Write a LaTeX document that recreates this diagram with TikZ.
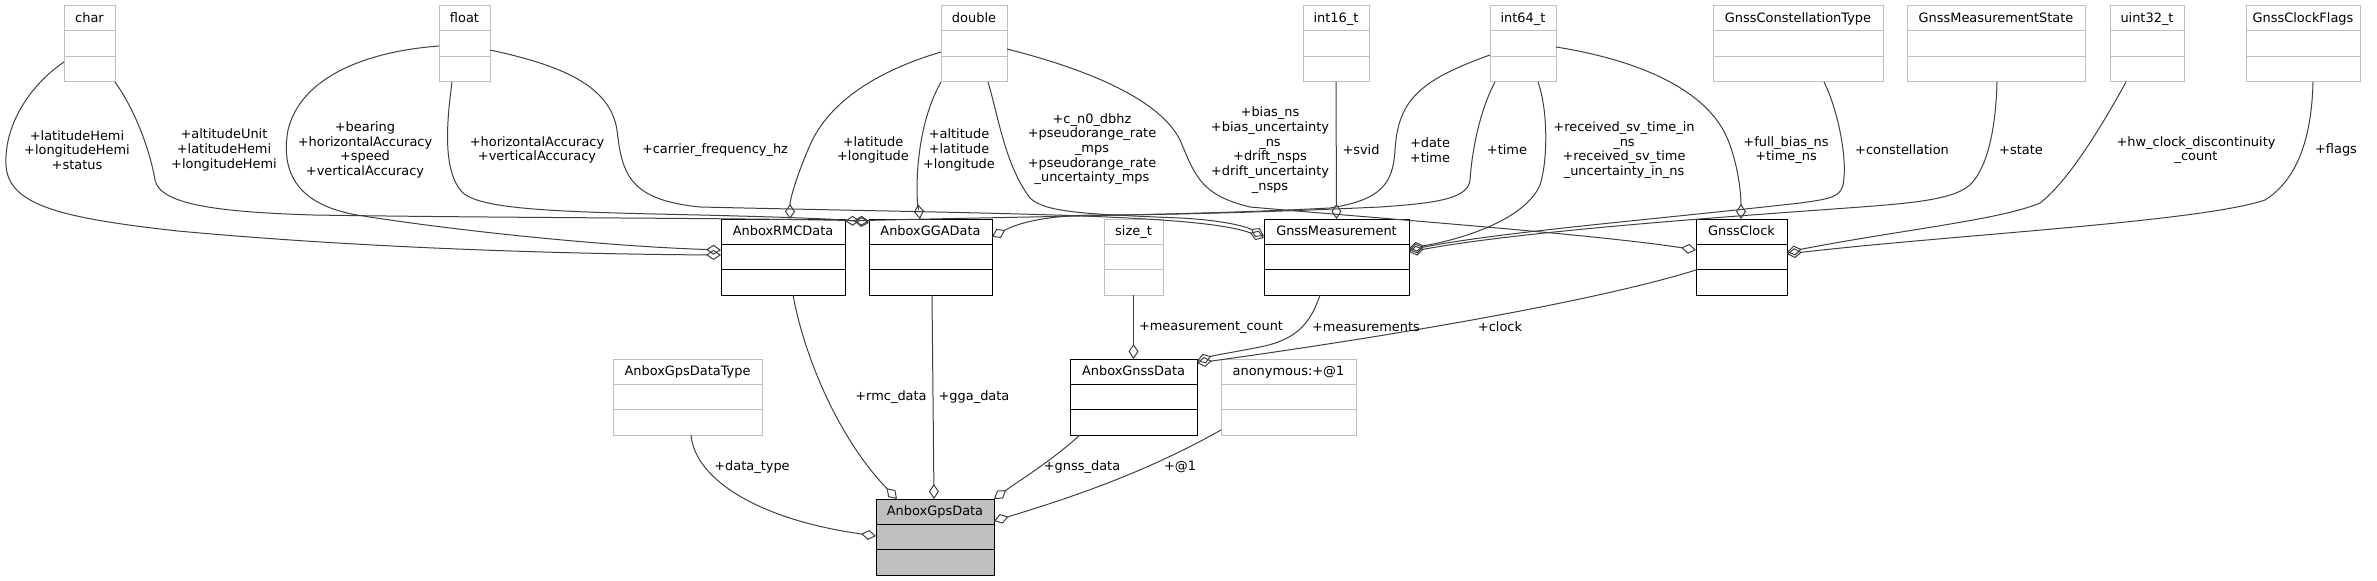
\documentclass[tikz,border=0pt]{standalone}
\usepackage{fontspec}
\setmainfont{DejaVu Sans}
\usetikzlibrary{arrows.meta,calc}
\definecolor{boxgray}{RGB}{191,191,191}
\definecolor{edgegray}{RGB}{64,64,64}
\newcommand\dgfont{\fontsize{9.7}{11}\selectfont}
\newcommand\umlbox[7]{%
  \node[cbox,#6,minimum width={#4*0.75pt},anchor=north west] (#1) at (#2,#3) {};
  \draw[draw=#7,line width=0.75pt] ($(#1.north west)+(0,25)$) -- ($(#1.north east)+(0,25)$)
    ($(#1.north west)+(0,50.5)$) -- ($(#1.north east)+(0,50.5)$);
  \node[anchor=base,font=\dgfont,inner sep=0pt] (#1-t) at ($(#1.north)+(0,16.5)$) {#5};
}
\begin{document}
\begin{tikzpicture}[x=0.75pt,y=-0.75pt,
  cbox/.style={rectangle,inner sep=0pt,outer sep=0pt,line width=0.75pt,minimum height=57pt},
  ext/.style={draw=boxgray,fill=white},
  doc/.style={draw=black,fill=white},
  mainc/.style={draw=black,fill=boxgray},
  conn/.style={draw=edgegray,line width=0.75pt,-{Diamond[open,length=11.25pt,width=7.5pt]}},
  elabel/.style={font=\dgfont,align=center,inner sep=0pt,text=black}]
\useasboundingbox (0,0) rectangle (2377,581);
\fill[white] (0,0) rectangle (2377,581);
% ---------- classes ----------
\umlbox{char}{64}{6}{51}{char}{ext}{boxgray}
\umlbox{float}{439}{6}{51}{float}{ext}{boxgray}
\umlbox{double}{941}{6}{66}{double}{ext}{boxgray}
\umlbox{int16}{1303}{6}{66}{int16\_t}{ext}{boxgray}
\umlbox{int64}{1490}{6}{66}{int64\_t}{ext}{boxgray}
\umlbox{gct}{1713}{6}{170}{GnssConstellationType}{ext}{boxgray}
\umlbox{gms}{1907}{6}{178}{GnssMeasurementState}{ext}{boxgray}
\umlbox{uint32}{2110}{6}{74}{uint32\_t}{ext}{boxgray}
\umlbox{gcf}{2246}{6}{114}{GnssClockFlags}{ext}{boxgray}
\umlbox{rmc}{721}{219}{124}{AnboxRMCData}{doc}{black}
\umlbox{gga}{869}{219}{123}{AnboxGGAData}{doc}{black}
\umlbox{sizet}{1104}{219}{59}{size\_t}{ext}{boxgray}
\umlbox{gm}{1264}{219}{145}{GnssMeasurement}{doc}{black}
\umlbox{gc}{1696}{219}{91}{GnssClock}{doc}{black}
\umlbox{dtype}{613}{359}{149}{AnboxGpsDataType}{ext}{boxgray}
\umlbox{gnss}{1070}{359}{127}{AnboxGnssData}{doc}{black}
\umlbox{anon}{1221}{359}{135}{anonymous:+@1}{ext}{boxgray}
\umlbox{gps}{876}{499}{118}{AnboxGpsData}{mainc}{black}
% ---------- connectors ----------
% char -> RMC
\draw[conn] ($(char.north west)+(0,56)$) .. controls (30,85) and (4,125) .. (6,165)
  .. controls (8,205) and (60,218) .. (178,231) .. controls (350,247) and (550,254) .. ($(rmc.north west)+(0,36)$);
% char -> GGA
\draw[conn] (char.south east) .. controls (135,110) and (150,150) .. (155,180)
  .. controls (160,205) and (220,212) .. (313,215) .. controls (500,218) and (750,218) .. ($(gga.north west)+(0,2)$);
% float -> RMC
\draw[conn] ($(float.north west)+(0,40)$) .. controls (360,52) and (300,80) .. (288,130)
  .. controls (280,175) and (300,205) .. (357,215) .. controls (450,230) and (600,246) .. ($(rmc.north west)+(0,31)$);
% float -> GGA
\draw[conn] ($(float.south west)+(13,0)$) .. controls (447,120) and (442,170) .. (462,192)
  .. controls (480,210) and (560,212) .. (700,215) .. controls (780,217) and (840,219) .. ($(gga.north west)+(0,4)$);
% float -> GnssMeasurement
\draw[conn] ($(float.north east)+(0,44)$) .. controls (560,65) and (610,85) .. (617,130)
  .. controls (622,175) and (630,200) .. (700,207) .. controls (1000,214) and (1200,214) .. ($(gm.north west)+(0,19)$);
% double -> RMC
\draw[conn] ($(double.north west)+(0,46)$) .. controls (880,70) and (830,100) .. (810,145)
  .. controls (795,180) and (790,200) .. ($(rmc.north west)+(69,0)$);
% double -> GGA
\draw[conn] (double.south west) .. controls (925,110) and (917,150) .. (917,190)
  .. controls (917,205) and (919,212) .. ($(gga.north west)+(51,0)$);
% double -> GnssMeasurement
\draw[conn] ($(double.south west)+(47,0)$) .. controls (998,115) and (1005,165) .. (1030,198)
  .. controls (1045,212) and (1080,214) .. (1180,218) .. controls (1220,220) and (1245,226) .. ($(gm.north west)+(0,17)$);
% double -> GnssClock
\draw[conn] ($(double.north east)+(0,43)$) .. controls (1090,70) and (1160,100) .. (1180,140)
  .. controls (1195,175) and (1200,195) .. (1250,207) .. controls (1400,220) and (1600,235) .. ($(gc.north west)+(0,31)$);
% int16 -> GnssMeasurement
\draw[conn] (int16.south) -- (gm.north);
% int64 -> RMC
\draw[conn] ($(int64.north west)+(0,49)$) .. controls (1420,80) and (1398,100) .. (1395,150)
  .. controls (1393,185) and (1380,200) .. (1330,208) .. controls (1200,215) and (1000,217) .. ($(rmc.north east)+(0,2)$);
% int64 -> GGA
\draw[conn] ($(int64.south west)+(5,0)$) .. controls (1480,110) and (1472,150) .. (1470,180)
  .. controls (1468,198) and (1440,203) .. (1380,207) .. controls (1250,213) and (1150,215) .. (1100,215)
  .. controls (1050,215) and (1020,222) .. ($(gga.north east)+(0,18)$);
% int64 -> GnssMeasurement
\draw[conn] ($(int64.south west)+(48,0)$) .. controls (1548,110) and (1548,160) .. (1540,185)
  .. controls (1525,220) and (1460,240) .. ($(gm.north east)+(0,29)$);
% int64 -> GnssClock
\draw[conn] ($(int64.north east)+(0,41)$) .. controls (1650,62) and (1710,95) .. (1728,140)
  .. controls (1740,170) and (1741,200) .. ($(gc.north west)+(45,0)$);
% GnssConstellationType -> GnssMeasurement
\draw[conn] ($(gct.south west)+(111,0)$) .. controls (1838,110) and (1848,160) .. (1843,185)
  .. controls (1840,197) and (1830,199) .. (1800,203) .. controls (1650,220) and (1500,232) .. ($(gm.north east)+(0,31)$);
% GnssMeasurementState -> GnssMeasurement
\draw[conn] ($(gms.south west)+(90,0)$) .. controls (1996,120) and (1990,165) .. (1970,185)
  .. controls (1950,202) and (1900,204) .. (1820,210) .. controls (1650,222) and (1500,235) .. ($(gm.north east)+(0,33)$);
% uint32 -> GnssClock
\draw[conn] ($(uint32.south west)+(16,0)$) .. controls (2105,120) and (2070,180) .. (2040,203)
  .. controls (2000,220) and (1900,230) .. ($(gc.north east)+(0,33)$);
% GnssClockFlags -> GnssClock
\draw[conn] ($(gcf.south west)+(67,0)$) .. controls (2312,120) and (2305,175) .. (2265,200)
  .. controls (2200,222) and (1950,235) .. ($(gc.north east)+(0,35)$);
% size_t -> AnboxGnssData
\draw[conn] (sizet.south) -- (gnss.north);
% GnssMeasurement -> AnboxGnssData
\draw[conn] ($(gm.south west)+(56,0)$) .. controls (1310,325) and (1295,340) .. (1260,347)
  .. controls (1235,352) and (1215,355) .. ($(gnss.north east)+(0,2)$);
% GnssClock -> AnboxGnssData
\draw[conn] ($(gc.south west)+(0,-25)$) .. controls (1600,300) and (1400,335) .. ($(gnss.north east)+(0,4)$);
% AnboxGpsDataType -> AnboxGpsData
\draw[conn] ($(dtype.south west)+(78,0)$) .. controls (695,480) and (760,520) .. ($(gps.north west)+(0,37)$);
% AnboxRMCData -> AnboxGpsData
\draw[conn] ($(rmc.south west)+(72,0)$) .. controls (805,360) and (840,440) .. ($(gps.north west)+(21,0)$);
% AnboxGGAData -> AnboxGpsData
\draw[conn] ($(gga.south west)+(63,0)$) -- ($(gps.north west)+(58,0)$);
% AnboxGnssData -> AnboxGpsData
\draw[conn] ($(gnss.south west)+(10,0)$) .. controls (1050,462) and (1020,480) .. (gps.north east);
% anonymous -> AnboxGpsData
\draw[conn] ($(anon.south west)+(0,-5)$) .. controls (1150,470) and (1080,495) .. ($(gps.north east)+(0,22)$);
% ---------- connector labels ----------
\node[elabel] (lA) at (77,150) {+latitudeHemi\\+longitudeHemi\\+status};
\node[elabel] (lB) at (224,150) {+altitudeUnit\\+latitudeHemi\\+longitudeHemi};
\node[elabel] (lC) at (365,150) {+bearing\\+horizontalAccuracy\\+speed\\+verticalAccuracy};
\node[elabel] (lD) at (537,150) {+horizontalAccuracy\\+verticalAccuracy};
\node[elabel] (lE) at (715,150) {+carrier\_frequency\_hz};
\node[elabel] (lF) at (873,150) {+latitude\\+longitude};
\node[elabel] (lG) at (959,150) {+altitude\\+latitude\\+longitude};
\node[elabel] (lH) at (1092,149) {+c\_n0\_dbhz\\+pseudorange\_rate\\\_mps\\+pseudorange\_rate\\\_uncertainty\_mps};
\node[elabel] (lI) at (1270,150) {+bias\_ns\\+bias\_uncertainty\\\_ns\\+drift\_nsps\\+drift\_uncertainty\\\_nsps};
\node[elabel] (lJ) at (1361,150) {+svid};
\node[elabel] (lK) at (1430,150) {+date\\+time};
\node[elabel] (lL) at (1507,150) {+time};
\node[elabel] (lM) at (1624,150) {+received\_sv\_time\_in\\\_ns\\+received\_sv\_time\\\_uncertainty\_in\_ns};
\node[elabel] (lN) at (1786,150) {+full\_bias\_ns\\+time\_ns};
\node[elabel] (lO) at (1902,150) {+constellation};
\node[elabel] (lP) at (2021,150) {+state};
\node[elabel] (lQ) at (2196,150) {+hw\_clock\_discontinuity\\\_count};
\node[elabel] (lR) at (2336,150) {+flags};
\node[elabel] (lS) at (1211,327) {+measurement\_count};
\node[elabel] (lT) at (1366,327) {+measurements};
\node[elabel] (lU) at (1500,327) {+clock};
\node[elabel] (lV) at (752,467) {+data\_type};
\node[elabel] (lW) at (891,397) {+rmc\_data};
\node[elabel] (lX) at (974,397) {+gga\_data};
\node[elabel] (lY) at (1082,467) {+gnss\_data};
\node[elabel] (lZ) at (1180,467) {+@1};
\end{tikzpicture}
\end{document}
